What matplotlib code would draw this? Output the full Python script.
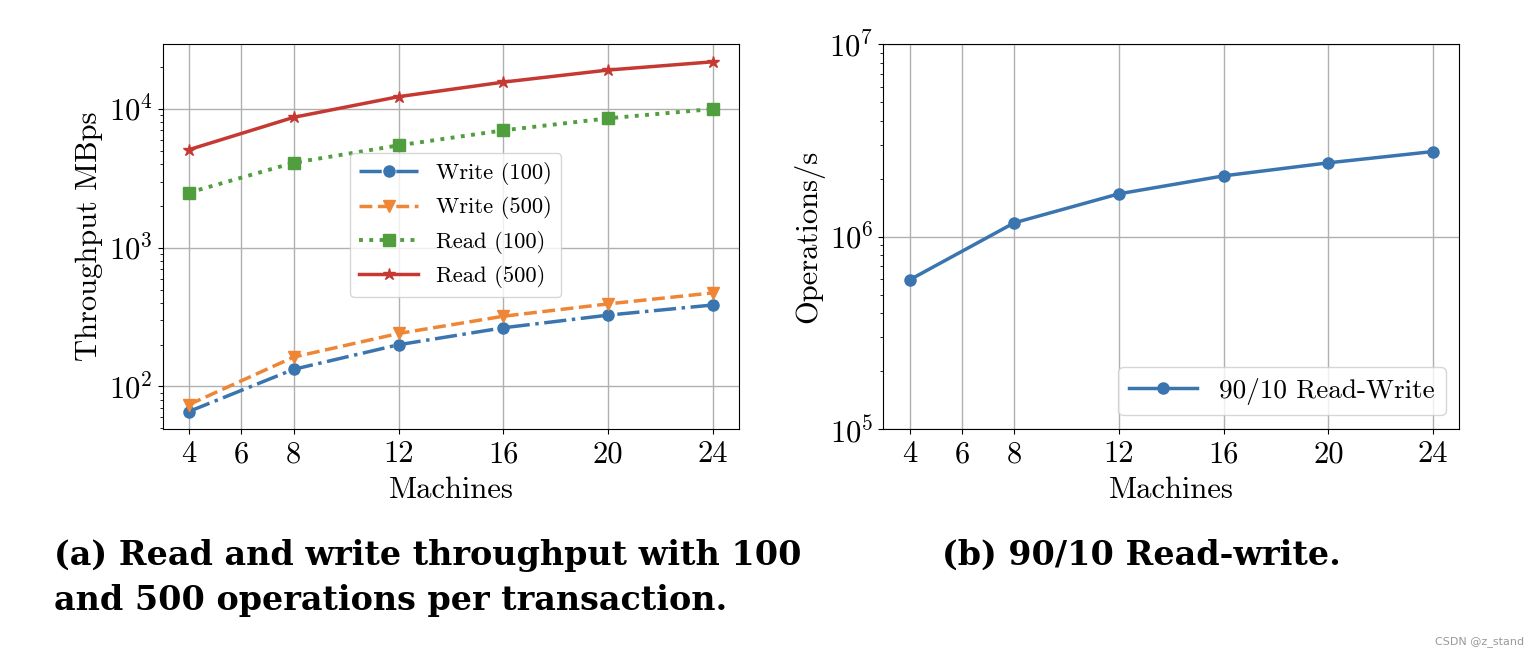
import matplotlib
matplotlib.use("Agg")
import matplotlib.pyplot as plt

# data
machines = [4, 8, 12, 16, 20, 24]
write_100 = [66, 133, 200, 265, 327, 387]
write_500 = [74, 163, 241, 321, 394, 473]
read_100 = [2495, 4100, 5470, 7020, 8570, 10000]
read_500 = [5090, 8710, 12270, 15630, 19100, 21900]
ops_9010 = [5.96e5, 1.18e6, 1.67e6, 2.07e6, 2.42e6, 2.77e6]
xticks = [4, 6, 8, 12, 16, 20, 24]

plt.rcParams['font.family'] = 'serif'
plt.rcParams['font.serif'] = ['cmr10', 'DejaVu Serif']
plt.rcParams['mathtext.fontset'] = 'cm'
plt.rcParams['axes.formatter.use_mathtext'] = True
plt.rcParams['axes.unicode_minus'] = False

blue = '#3a75af'
orange = '#ef8636'
green = '#519e3e'
red = '#c53932'

fig = plt.figure(figsize=(15.4, 6.56), dpi=100)
ax1 = fig.add_axes([0.1056, 0.346, 0.3745, 0.5865])
ax2 = fig.add_axes([0.5736, 0.346, 0.374, 0.5865])

#%% (a) throughput
ax1.plot(machines, write_100, '-.', color=blue, marker='o', lw=2.5, ms=8, label='Write (100)')
ax1.plot(machines, write_500, '--', color=orange, marker='v', lw=2.5, ms=8, label='Write (500)')
ax1.plot(machines, read_100, ':', color=green, marker='s', lw=2.8, ms=8, label='Read (100)')
ax1.plot(machines, read_500, '-', color=red, marker='*', lw=2.5, ms=9, label='Read (500)')
ax1.set_yscale('log')
ax1.set_ylabel('Throughput MBps', fontsize=22)
ax1.legend(loc='center', bbox_to_anchor=(0.508, 0.53), fontsize=16.3, handlelength=2.6)

#%% (b) 90/10 read-write
ax2.plot(machines, ops_9010, '-', color=blue, marker='o', lw=2.5, ms=8, label='90/10 Read-Write')
ax2.set_yscale('log')
ax2.set_ylim(1e5, 1e7)
ax2.set_ylabel('Operations/s', fontsize=22)
ax2.legend(loc='lower right', fontsize=19.6, handlelength=2.5)

for ax in (ax1, ax2):
    ax.set_xlim(3, 25)
    ax.set_xticks(xticks)
    ax.set_xticklabels([str(t) for t in xticks])
    ax.set_xlabel('Machines', fontsize=22, labelpad=6)
    ax.tick_params(axis='both', which='major', labelsize=22)
    ax.tick_params(axis='x', pad=5)
    ax.grid(True, which='major', color='#b0b0b0', lw=1)
    ax.set_axisbelow(True)

# captions
cap = dict(family='DejaVu Serif', fontweight='bold', fontsize=24, va='baseline')
fig.text(0.035, 1 - 565 / 656, '(a) Read and write throughput with 100', **cap)
fig.text(0.035, 1 - 610 / 656, 'and 500 operations per transaction.', **cap)
fig.text(0.612, 1 - 565 / 656, '(b) 90/10 Read-write.', **cap)
fig.text(0.99, 0.018, 'CSDN @z_stand', family='DejaVu Sans', fontsize=8,
         color='#999999', ha='right')

fig.savefig('out.png', dpi=100)
